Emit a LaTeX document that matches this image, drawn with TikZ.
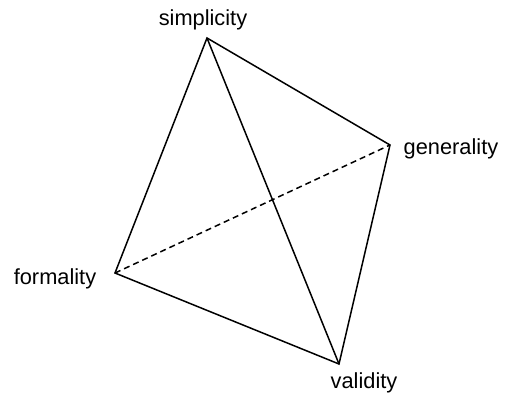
\documentclass[tikz,border=0pt]{standalone}
\usepackage{fontspec}
\setmainfont{Liberation Sans}
\begin{document}
\begin{tikzpicture}[x=1pt,y=-1pt,
  edge/.style={line width=1.5pt, line join=miter},
  lbl/.style={font=\fontsize{21.8}{24}\selectfont, inner sep=0pt, anchor=base}]
\useasboundingbox (0,0) rectangle (507,395);
\coordinate (s) at (207,38);
\coordinate (g) at (390,145);
\coordinate (f) at (115,273);
\coordinate (v) at (339,364);
\draw[edge] (f) -- (s) -- (g) -- (v) -- cycle;
\draw[edge] (s) -- (v);
\draw[edge, dashed, dash pattern=on 6pt off 4pt] (f) -- (g);
\node[lbl] (ls) at (203,25.5) {simplicity};
\node[lbl] (lg) at (451,154.5) {generality};
\node[lbl] (lf) at (55,284.5) {formality};
\node[lbl] (lv) at (364,388.5) {validity};
\end{tikzpicture}
\end{document}
